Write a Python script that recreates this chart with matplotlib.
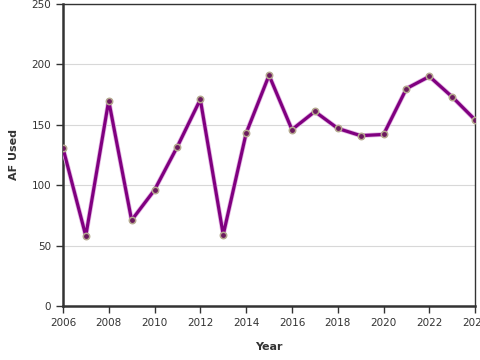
import matplotlib
matplotlib.use('Agg')
import matplotlib.pyplot as plt
import matplotlib.patheffects as pe

years = list(range(2006, 2025))
af_used = [131, 58, 170, 71, 96, 132, 171, 59, 143, 191, 146, 161, 147, 141, 142, 180, 190, 173, 154]

fig = plt.figure(figsize=(4.8, 3.6), dpi=100)
ax = fig.add_axes([0.131, 0.15, 0.859, 0.839])

# line with a faint pink halo
ax.plot(years, af_used, color='#800080', lw=2.3, zorder=3,
        path_effects=[pe.Stroke(linewidth=3.4, foreground='#e3b6e3'), pe.Normal()])
ax.plot(years, af_used, ls='none', zorder=4,
        marker='o', markersize=4.6, markerfacecolor='#6b1a5e',
        markeredgecolor='#b5a88f', markeredgewidth=1.1)

ax.set_xlim(2006, 2024)
ax.set_ylim(0, 250)
ax.set_xticks(range(2006, 2025, 2))
ax.set_yticks(range(0, 251, 50))
ax.grid(axis='y', color='#d8d8d8', lw=0.8)
ax.set_axisbelow(True)

for side in ['left', 'bottom']:
    ax.spines[side].set_linewidth(1.8)
    ax.spines[side].set_color('#333333')
for side in ['top', 'right']:
    ax.spines[side].set_linewidth(1.0)
    ax.spines[side].set_color('#333333')

ax.tick_params(labelsize=7.5, colors='#333333', length=5, width=1)
ax.set_xlabel('Year', fontsize=8, fontweight='bold', color='#333333', labelpad=10)
ax.set_ylabel('AF Used', fontsize=8, fontweight='bold', color='#333333', labelpad=9)

fig.savefig('out.png', dpi=100)
